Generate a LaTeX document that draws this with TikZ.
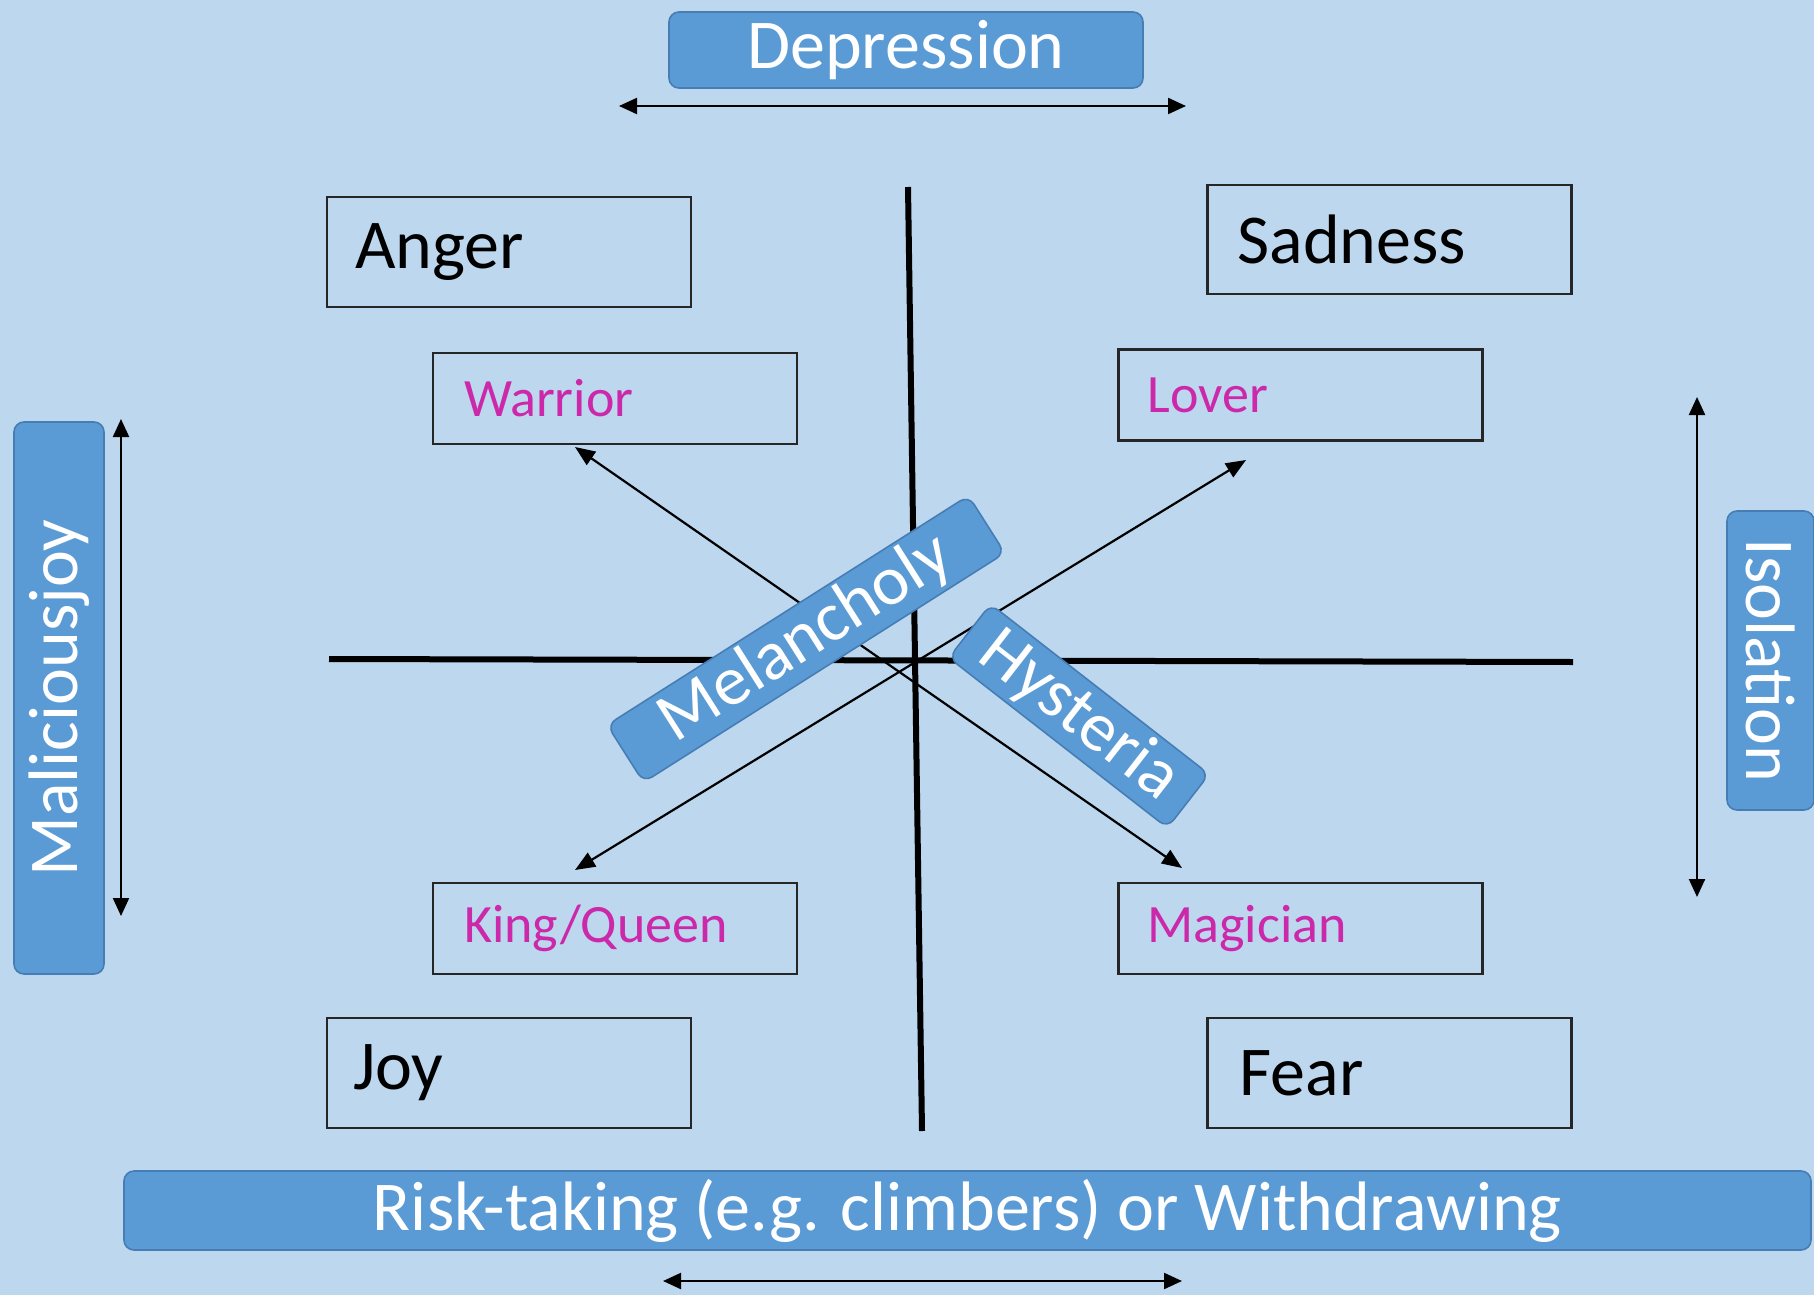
\documentclass[tikz,border=0pt]{standalone}
\usepackage{fontspec}
\setmainfont{Carlito}
\usetikzlibrary{arrows.meta}
\definecolor{bgblue}{RGB}{189,215,238}
\definecolor{boxblue}{RGB}{91,155,213}
\definecolor{boxedge}{RGB}{70,125,180}
\definecolor{pinktext}{RGB}{204,40,170}
\tikzset{
  emobox/.style={draw=black!85, line width=1.25pt, inner ysep=0pt, align=left,
    font=\fontsize{35}{40}\selectfont, text=black},
  archbox/.style={draw=black!85, line width=1.25pt, inner ysep=0pt, align=left,
    minimum height=45.5pt, font=\fontsize{27}{32}\selectfont, text=pinktext},
  bluebox/.style={fill=boxblue, draw=boxedge, line width=0.8pt, rounded corners=5pt,
    text=white, inner sep=0pt, font=\fontsize{35}{40}\selectfont},
  axisline/.style={line width=3pt, black},
  diagarrow/.style={line width=1.1pt, black, {Triangle[length=10pt,width=8pt]}-{Triangle[length=10pt,width=8pt]}},
  sidearrow/.style={line width=1.1pt, black, {Triangle[length=9pt,width=8pt]}-{Triangle[length=9pt,width=8pt]}}
}
\begin{document}
\begin{tikzpicture}[x=0.5pt,y=-0.5pt]
\fill[bgblue] (0,0) rectangle (1814,1295);
\useasboundingbox (0,0) rectangle (1814,1295);

% axes
\coordinate (vtop) at (908,187);
\coordinate (vbot) at (922,1131);
\coordinate (hleft) at (329,659);
\coordinate (hright) at (1573,662);
\draw[axisline] (vtop) -- (vbot);
\draw[axisline] (hleft) -- (hright);

% emotion boxes
\node[emobox, text width=154pt, inner xsep=14pt, minimum height=55pt] (anger) at (509,252) {\raisebox{-2pt}{Anger}};
\node[emobox, text width=152pt, inner xsep=15pt, minimum height=54.5pt] (sadness) at (1389.5,239.5) {Sadness};
\node[emobox, text width=156pt, inner xsep=13pt, minimum height=55pt] (joy) at (509,1073) {\raisebox{-2pt}{Joy}};
\node[emobox, text width=150pt, inner xsep=16pt, minimum height=55pt] (fear) at (1389.5,1073) {Fear};

% archetype boxes
\node[archbox, text width=151pt, inner xsep=15.5pt] (warrior) at (615,398.5) {Warrior};
\node[archbox, text width=153pt, inner xsep=14.5pt] (lover) at (1300.5,395) {Lover};
\node[archbox, text width=151pt, inner xsep=15.5pt] (king) at (615,928.5) {King/Queen};
\node[archbox, text width=153pt, inner xsep=14.5pt] (magician) at (1300.5,928.5) {Magician};

% diagonal arrows
\coordinate (wtip) at (575,447);
\coordinate (mtip) at (1182,868);
\coordinate (ktip) at (575,870);
\coordinate (ltip) at (1246,460);
\draw[diagarrow] (wtip) -- (mtip);
\draw[diagarrow] (ktip) -- (ltip);

% side arrows
\coordinate (dl) at (619,106);
\coordinate (dr) at (1186,106);
\draw[sidearrow] (dl) -- (dr);
\coordinate (mt) at (121,419);
\coordinate (mb) at (121,916);
\draw[sidearrow] (mt) -- (mb);
\coordinate (it) at (1697,397);
\coordinate (ib) at (1697,897);
\draw[sidearrow] (it) -- (ib);
\coordinate (rl) at (663,1281);
\coordinate (rr) at (1182,1281);
\draw[sidearrow] (rl) -- (rr);

% blue label boxes
\node[bluebox, minimum width=237pt, minimum height=38pt] (depression) at (906,50) {Depression};
\node[bluebox, rotate=90, minimum width=276pt, minimum height=45pt] (malicious) at (59,698) {Maliciousjoy};
\node[bluebox, rotate=-90, minimum width=149.5pt, minimum height=43.5pt] (isolation) at (1770.5,660.5) {Isolation};
\node[bluebox, minimum width=843.5pt, minimum height=39.5pt] (risk) at (967.5,1210.5) {Risk-taking (e.g. climbers) or Withdrawing};
\node[bluebox, rotate=32.4, minimum width=214pt, minimum height=34pt] (melancholy) at (806,639) {Melancholy};
\node[bluebox, rotate=-37.9, minimum width=138.5pt, minimum height=34pt] (hysteria) at (1079,716) {Hysteria};
\end{tikzpicture}
\end{document}
